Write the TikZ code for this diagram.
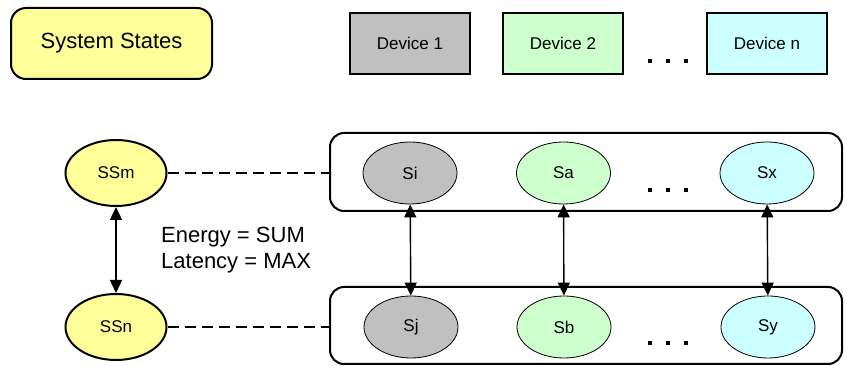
\documentclass[tikz,border=0pt]{standalone}
\usepackage{fontspec}
\setmainfont{Liberation Sans}
\usetikzlibrary{shapes.geometric,arrows.meta}
\definecolor{ssyellow}{HTML}{FFFF99}
\definecolor{devgray}{HTML}{C0C0C0}
\definecolor{devgreen}{HTML}{CCFFCC}
\definecolor{devcyan}{HTML}{CCFFFF}
\tikzset{
  legendbox/.style={draw, line width=2pt, rounded corners=15pt, fill=ssyellow,
    minimum width=201pt, minimum height=71pt, inner sep=0pt,
    font=\fontsize{22}{26}\selectfont},
  devbox/.style={draw, line width=2pt, minimum width=120pt, minimum height=61pt,
    inner sep=0pt, font=\fontsize{17}{20}\selectfont},
  groupbox/.style={draw, line width=2pt, rounded corners=14pt,
    minimum width=512pt, minimum height=78pt, inner sep=0pt},
  sysstate/.style={ellipse, draw, line width=2pt, fill=ssyellow,
    minimum width=101pt, minimum height=66pt, inner sep=0pt,
    font=\fontsize{17}{20}\selectfont},
  devstate/.style={ellipse, draw, line width=0.8pt, minimum width=94pt,
    minimum height=62pt, inner sep=0pt, font=\fontsize{17}{20}\selectfont},
  link/.style={line width=2pt, dash pattern=on 11pt off 6pt},
  pair/.style={line width=1.4pt,
    {Triangle[length=13pt,width=12pt]}-{Triangle[length=13pt,width=12pt]}},
  dot/.style={fill=black}
}
\newcommand{\dotrow}[2]{%
  \foreach \dx in {0,18,36} {\fill[dot] (#1+\dx-1.7,#2-1.7) rectangle (#1+\dx+1.7,#2+1.7);}}
\begin{document}
\begin{tikzpicture}[x=1pt,y=-1pt]
\useasboundingbox (0,0) rectangle (847,366);

% legend row
\node[legendbox] (legend) at (111.5,43.5) {System States};
\node[devbox, fill=devgray]  (dev1) at (410,43.5) {Device 1};
\node[devbox, fill=devgreen] (dev2) at (563,43.5) {Device 2};
\node[devbox, fill=devcyan]  (devn) at (767,43.5) {Device n};
\dotrow{650}{61}

% combined device states
\node[groupbox] (top) at (586,172) {};
\node[groupbox, minimum height=77pt] (bot) at (586,325.5) {};

\node[devstate, fill=devgray]  (si) at (410,173) {Si};
\node[devstate, fill=devgreen] (sa) at (563.5,173) {Sa};
\node[devstate, fill=devcyan]  (sx) at (767,173) {Sx};
\dotrow{650}{190}

\node[devstate, fill=devgray]  (sj) at (411,327) {Sj};
\node[devstate, fill=devgreen] (sb) at (564,327) {Sb};
\node[devstate, fill=devcyan]  (sy) at (768,327) {Sy};
\dotrow{650}{343}

% system states
\node[sysstate] (ssm) at (116,173) {SSm};
\node[sysstate] (ssn) at (116,327) {SSn};

\draw[link] (ssm.east) -- (ssm.east -| top.west);
\draw[link] (ssn.east) -- (ssn.east -| bot.west);

\draw[pair] (ssm) -- (ssn);
\draw[pair] (si) -- (sj);
\draw[pair] (sa) -- (sb);
\draw[pair] (sx) -- (sy);

\node[anchor=west, align=left, inner sep=0pt, font=\fontsize{22}{26}\selectfont]
  (rule) at (161,250) {Energy = SUM\\Latency = MAX};
\end{tikzpicture}
\end{document}
